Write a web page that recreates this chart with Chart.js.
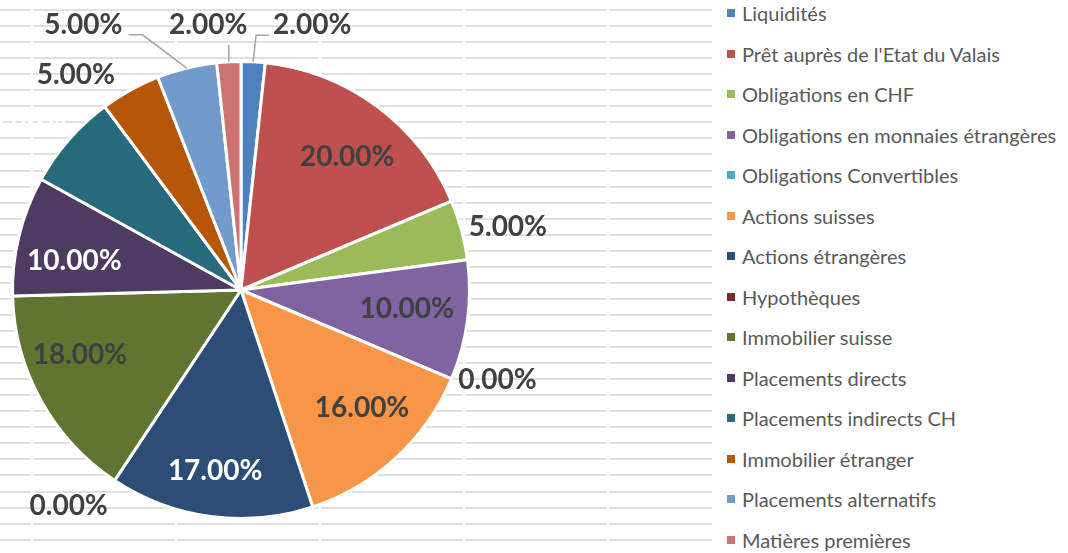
<!DOCTYPE html>
<html>
<head>
<meta charset="utf-8">
<script src="https://cdn.jsdelivr.net/npm/chart.js@4.4.1/dist/chart.umd.min.js"></script>
<style>
  html, body { margin: 0; padding: 0; background: #fff; }
  #wrap { position: relative; width: 1068px; height: 553px; overflow: hidden; }
  #c { position: absolute; left: 0; top: 0; }
  #legend { position: absolute; left: 712px; top: 0; width: 356px; height: 553px; background: #fff; }
  #legend ul { list-style: none; margin: 0; padding: 0; position: absolute; left: 0; top: -7px; }
  #legend li { height: 40.5px; display: flex; align-items: center; font-family: Lato, "Open Sans", sans-serif; font-size: 20px; color: #595959; white-space: nowrap; }
  #legend li span.box { display: inline-block; width: 8px; height: 8px; margin-left: 15px; margin-right: 7px; }
</style>
</head>
<body>
<div id="wrap">
  <canvas id="c" width="1068" height="553"></canvas>
  <div id="legend"></div>
</div>
<script>
const categories = [
  "Liquidités",
  "Prêt auprès de l'Etat du Valais",
  "Obligations en CHF",
  "Obligations en monnaies étrangères",
  "Obligations Convertibles",
  "Actions suisses",
  "Actions étrangères",
  "Hypothèques",
  "Immobilier suisse",
  "Placements directs",
  "Placements indirects CH",
  "Immobilier étranger",
  "Placements alternatifs",
  "Matières premières"
];
const values = [2, 20, 5, 10, 0, 16, 17, 0, 18, 10, 8, 5, 5, 2];
const colors = [
  "#4F81BD", "#C0504D", "#9BBB59", "#8064A2", "#4BACC6", "#F79646", "#2C4D75",
  "#772C2A", "#5F7530", "#4D3B62", "#276A7C", "#B65708", "#729ACA", "#CD7371"
];
const labelColors = [
  "#404040", "#404040", "#404040", "#404040", "#404040", "#404040", "#ffffff",
  "#404040", "#404040", "#ffffff", "#ffffff", "#404040", "#404040", "#404040"
];
// label placement: [angle nudge in degrees, radius factor]
const labelPlacement = [
  [12, 1.20], [2, 0.745], [2, 1.20], [-1, 0.73], [-3.5, 1.19], [-3, 0.74], [0.5, 0.80],
  [5, 1.21], [7, 0.76], [-4, 0.74], [-2.6, 1.20], [-8.6, 1.185], [-17, 1.35], [-4, 1.17]
];
const leaderType = [
  "elbowL", null, null, null, null, null, null,
  null, null, null, null, null, "elbowR", "down"
];

const gridPlugin = {
  id: 'grid',
  beforeDraw(chart) {
    const ctx = chart.ctx;
    ctx.save();
    ctx.fillStyle = '#ffffff';
    ctx.fillRect(0, 0, chart.width, chart.height);
    ctx.fillStyle = '#e0e0e0';
    for (let y = 9; y < chart.height; y += 16.05) {
      ctx.fillRect(0, Math.round(y), 712, 2);
    }
    ctx.fillStyle = '#ffffff';
    [31, 175, 319, 463, 607].forEach(x => ctx.fillRect(x, 0, 2, chart.height));
    ctx.restore();
  }
};

const labelPlugin = {
  id: 'pieLabels',
  afterDatasetsDraw(chart) {
    const ctx = chart.ctx;
    const meta = chart.getDatasetMeta(0);
    ctx.save();
    ctx.font = 'bold 28px Lato, sans-serif';
    ctx.textAlign = 'center';
    ctx.textBaseline = 'middle';
    meta.data.forEach((arc, i) => {
      const p = arc.getProps(['x', 'y', 'startAngle', 'endAngle', 'outerRadius'], true);
      const mid = (p.startAngle + p.endAngle) / 2;
      const a = mid + labelPlacement[i][0] * Math.PI / 180;
      const r = p.outerRadius * labelPlacement[i][1];
      const lx = p.x + Math.cos(a) * r;
      const ly = p.y + Math.sin(a) * r;
      const text = values[i].toFixed(2) + '%';
      const w = ctx.measureText(text).width;
      const lt = leaderType[i];
      if (lt) {
        const ex = p.x + Math.cos(mid) * p.outerRadius;
        const ey = p.y + Math.sin(mid) * p.outerRadius;
        ctx.strokeStyle = '#a6a6a6';
        ctx.lineWidth = 1.5;
        ctx.beginPath();
        ctx.moveTo(ex, ey);
        if (lt === 'elbowL') {
          ctx.lineTo(lx - w / 2 - 17, ly + 10);
          ctx.lineTo(lx - w / 2 - 4, ly + 10);
        } else if (lt === 'elbowR') {
          ctx.lineTo(lx + w / 2 + 20, ly + 10);
          ctx.lineTo(lx + w / 2 + 6, ly + 10);
        } else if (lt === 'down') {
          ctx.lineTo(ex, ly + 20);
        }
        ctx.stroke();
      }
      ctx.fillStyle = labelColors[i];
      ctx.fillText(text, lx, ly);
    });
    ctx.restore();
  }
};

const chart = new Chart(document.getElementById('c'), {
  type: 'pie',
  data: {
    labels: categories,
    datasets: [{
      data: values,
      backgroundColor: colors,
      borderColor: '#ffffff',
      borderWidth: 3,
      hoverOffset: 0,
      offset: 0
    }]
  },
  options: {
    responsive: false,
    animation: false,
    devicePixelRatio: 1,
    layout: { padding: { left: 11, right: 597, top: 60, bottom: 33 } },
    plugins: {
      legend: { display: false },
      tooltip: { enabled: false }
    }
  },
  plugins: [gridPlugin, labelPlugin]
});

// HTML legend generated from the chart's own data
const ul = document.createElement('ul');
chart.data.labels.forEach((lab, i) => {
  const li = document.createElement('li');
  const box = document.createElement('span');
  box.className = 'box';
  box.style.background = chart.data.datasets[0].backgroundColor[i];
  li.appendChild(box);
  li.appendChild(document.createTextNode(lab));
  ul.appendChild(li);
});
document.getElementById('legend').appendChild(ul);
</script>
</body>
</html>
